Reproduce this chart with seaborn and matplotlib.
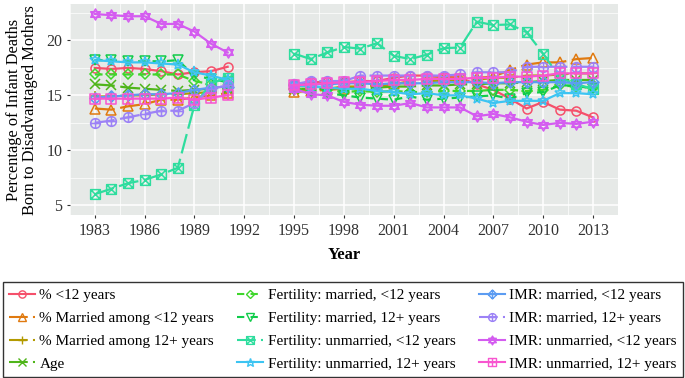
import matplotlib
matplotlib.use("Agg")
import matplotlib.pyplot as plt
from matplotlib.path import Path
from matplotlib.lines import Line2D
from matplotlib.ticker import MultipleLocator
import seaborn as sns
import numpy as np
import pandas as pd

# Years covered by the two survey periods
years_a = list(range(1983, 1992))
years_b = list(range(1995, 2014))

labels = [
    "% <12 years",
    "% Married among <12 years",
    "% Married among 12+ years",
    "Age",
    "Fertility: married, <12 years",
    "Fertility: married, 12+ years",
    "Fertility: unmarried, <12 years",
    "Fertility: unmarried, 12+ years",
    "IMR: married, <12 years",
    "IMR: married, 12+ years",
    "IMR: unmarried, <12 years",
    "IMR: unmarried, 12+ years",
]

pct_lt12_a = [17.5, 17.4, 17.5, 17.4, 17.2, 16.9, 17.1, 17.2, 17.6]
pct_lt12_b = [16.0, 16.2, 16.2, 16.2, 16.3, 16.3, 16.6, 16.8, 16.8, 16.7,
              16.6, 16.0, 15.5, 14.7, 13.8, 14.4, 13.7, 13.6, 13.0]
mar_lt12_a = [13.8, 13.7, 14.0, 14.2, 14.6, 14.6, 14.8, 15.0, 15.2]
mar_lt12_b = [15.3, 15.4, 15.5, 15.6, 15.8, 15.9, 16.0, 16.3, 16.5, 16.6,
              16.6, 16.6, 16.7, 17.3, 17.8, 18.0, 18.0, 18.3, 18.4]
mar_12p_a = [14.9, 14.9, 15.0, 15.0, 15.1, 15.1, 15.2, 15.3, 15.3]
mar_12p_b = [15.4, 15.6, 15.6, 15.8, 15.8, 15.9, 16.1, 16.1, 16.3, 16.3,
             16.4, 16.4, 16.6, 16.6, 16.8, 16.8, 16.9, 17.0, 17.0]
age_a = [16.0, 15.9, 15.7, 15.6, 15.5, 15.4, 15.5, 15.6, 15.6]
age_b = [15.6, 15.6, 15.6, 15.7, 15.6, 15.7, 15.8, 15.8, 15.9, 15.9,
         16.0, 16.0, 16.1, 16.1, 16.2, 16.3, 16.4, 16.4, 16.4]
fert_mar_lt12_a = [16.9, 16.9, 16.9, 16.9, 16.9, 16.9, 16.3, 16.0, 15.8]
fert_mar_lt12_b = [15.6, 15.5, 15.5, 15.3, 15.4, 15.3, 15.4, 15.3, 15.3, 15.4,
                   15.4, 15.4, 15.5, 15.5, 15.4, 15.5, 15.9, 15.8, 15.7]
fert_mar_12p_a = [18.2, 18.2, 18.1, 18.1, 18.1, 18.2, 16.8, 16.5, 16.2]
fert_mar_12p_b = [15.5, 15.3, 15.2, 15.0, 14.8, 14.7, 14.6, 14.9, 14.6, 14.7,
                  14.8, 14.9, 15.0, 14.7, 15.2, 15.3, 15.9, 15.9, 15.6]
fert_unm_lt12_a = [6.0, 6.5, 7.0, 7.3, 7.8, 8.4, 14.1, 16.1, 16.6]
fert_unm_lt12_b = [18.8, 18.3, 18.9, 19.4, 19.25, 19.75, 18.6, 18.3, 18.7, 19.3,
                   19.35, 21.7, 21.4, 21.45, 20.75, 18.8, 16.6, 16.0, 15.6]
fert_unm_12p_a = [18.2, 18.1, 18.0, 18.0, 17.9, 17.8, 17.1, 16.8, 16.4]
fert_unm_12p_b = [15.9, 15.8, 15.7, 15.6, 15.6, 15.4, 15.3, 15.1, 15.2, 15.0,
                  15.0, 14.7, 14.3, 14.5, 14.5, 14.5, 15.2, 15.2, 15.1]
imr_mar_lt12_a = [14.8, 14.9, 15.0, 15.1, 15.1, 15.2, 15.5, 15.7, 15.8]
imr_mar_lt12_b = [15.9, 16.0, 16.0, 16.1, 16.1, 16.0, 16.1, 16.1, 16.1, 16.2,
                  16.2, 16.2, 16.1, 16.2, 16.2, 16.2, 16.2, 16.1, 16.2]
imr_mar_12p_a = [12.5, 12.7, 13.0, 13.3, 13.6, 13.6, 14.3, 15.6, 15.9]
imr_mar_12p_b = [16.0, 16.3, 16.3, 16.3, 16.8, 16.8, 16.8, 16.8, 16.8, 16.8,
                 16.9, 17.1, 17.1, 17.1, 17.6, 17.6, 17.6, 17.6, 17.6]
imr_unm_lt12_a = [22.4, 22.3, 22.2, 22.2, 21.5, 21.5, 20.8, 19.7, 18.9]
imr_unm_lt12_b = [15.6, 15.1, 15.0, 14.4, 14.15, 14.05, 14.05, 14.3, 13.9, 13.9,
                  13.9, 13.1, 13.3, 13.0, 12.6, 12.3, 12.5, 12.4, 12.6]
imr_unm_12p_a = [14.7, 14.7, 14.7, 14.7, 14.7, 14.8, 14.6, 14.8, 15.0]
imr_unm_12p_b = [15.9, 16.0, 16.1, 16.2, 16.2, 16.3, 16.4, 16.4, 16.5, 16.5,
                 16.5, 16.6, 16.6, 16.7, 16.7, 16.8, 17.0, 17.0, 17.0]

series_a = [pct_lt12_a, mar_lt12_a, mar_12p_a, age_a, fert_mar_lt12_a,
            fert_mar_12p_a, fert_unm_lt12_a, fert_unm_12p_a, imr_mar_lt12_a,
            imr_mar_12p_a, imr_unm_lt12_a, imr_unm_12p_a]
series_b = [pct_lt12_b, mar_lt12_b, mar_12p_b, age_b, fert_mar_lt12_b,
            fert_mar_12p_b, fert_unm_lt12_b, fert_unm_12p_b, imr_mar_lt12_b,
            imr_mar_12p_b, imr_unm_lt12_b, imr_unm_12p_b]

colors = ["#F5506B", "#E07A10", "#B39A00", "#4FB51A", "#3FD62C", "#10CC4A",
          "#2EDD9E", "#3CC4F2", "#5C9CF2", "#9C82F6", "#D45CF0", "#F855D0"]

# ggplot style compound markers
M, L, C = Path.MOVETO, Path.LINETO, Path.CLOSEPOLY
square = Path([(-1, -1), (1, -1), (1, 1), (-1, 1), (-1, -1)], [M, L, L, L, C])
diag = Path([(-1, -1), (1, 1), (-1, 1), (1, -1)], [M, L, M, L])
plus = Path([(-1, 0), (1, 0), (0, -1), (0, 1)], [M, L, M, L])
plus_d = Path([(-1.35, 0), (1.35, 0), (0, -1.35), (0, 1.35)], [M, L, M, L])
diamond = Path([(0, -1.35), (1.35, 0), (0, 1.35), (-1.35, 0), (0, -1.35)],
               [M, L, L, L, C])
tri_up = Path([(0, 1.25), (1.08, -0.62), (-1.08, -0.62), (0, 1.25)], [M, L, L, C])
tri_dn = Path([(0, -1.25), (1.08, 0.62), (-1.08, 0.62), (0, -1.25)], [M, L, L, C])
sq_cross = Path.make_compound_path(square, diag)
dia_plus = Path.make_compound_path(diamond, plus_d)
circ_plus = Path.make_compound_path(Path.unit_circle(), plus)
star_david = Path.make_compound_path(tri_up, tri_dn)
sq_plus = Path.make_compound_path(square, plus)

markers = ["o", "^", "+", "x", "D", "v", sq_cross, "*", dia_plus, circ_plus,
           star_david, sq_plus]
msizes = [6.5, 7, 7.5, 6.5, 5.5, 7, 7, 8, 8, 7, 8, 7]
longdash = (9, 2.5)
dashed = (3.5, 3)
styles = ["-", longdash, longdash, longdash, dashed, dashed, longdash, "-",
          "-", longdash, "-", "-"]

rows = []
for i, lab in enumerate(labels):
    for yr, v in zip(years_a, series_a[i]):
        rows.append((lab, "a", yr, v))
    for yr, v in zip(years_b, series_b[i]):
        rows.append((lab, "b", yr, v))
df = pd.DataFrame(rows, columns=["series", "period", "year", "value"])

plt.rcParams["font.family"] = ["Liberation Serif", "DejaVu Serif"]

fig = plt.figure(figsize=(6.85, 3.78), dpi=100)
ax = fig.add_axes([0.102, 0.431, 0.8, 0.558])
ax.set_facecolor("#E6E9E7")

for i, lab in enumerate(labels):
    sub = df[df["series"] == lab]
    ls = styles[i]
    kw = dict(linestyle="-") if ls == "-" else dict(dashes=ls)
    sns.lineplot(data=sub, x="year", y="value", units="period",
                 estimator=None, color=colors[i], ax=ax, linewidth=1.6,
                 marker=markers[i], markersize=msizes[i],
                 markerfacecolor="none", markeredgecolor=colors[i],
                 markeredgewidth=1.1, legend=False, zorder=3, **kw)

ax.set_xlim(1981.5, 2014.5)
ax.set_ylim(4.1, 23.3)
ax.set_xticks(range(1983, 2014, 3))
ax.set_yticks([5, 10, 15, 20])
ax.xaxis.set_minor_locator(MultipleLocator(1.5))
ax.yaxis.set_minor_locator(MultipleLocator(2.5))
ax.grid(which="major", color="white", linewidth=1.1, zorder=0)
ax.grid(which="minor", color="white", linewidth=0.5, zorder=0)
ax.set_axisbelow(True)
for s in ax.spines.values():
    s.set_visible(False)
ax.tick_params(which="major", length=2.5, width=0.8, color="#333333",
               labelsize=11.5, labelcolor="#333333", pad=3)
ax.tick_params(which="minor", length=0)
ax.set_xlabel("Year", fontsize=12, fontweight="bold", labelpad=6)
ax.set_ylabel("Percentage of Infant Deaths\nBorn to Disadvantaged Mothers",
              fontsize=11.8, labelpad=6, linespacing=1.0)

handles = []
for i, lab in enumerate(labels):
    ls = styles[i]
    h = Line2D([], [], color=colors[i], linewidth=1.5, marker=markers[i],
               markersize=msizes[i] * 0.8, markerfacecolor="none",
               markeredgecolor=colors[i], markeredgewidth=1.0)
    if ls != "-":
        h.set_dashes(ls)
    handles.append(h)

leg = fig.legend(handles, labels, loc="lower left",
                 bbox_to_anchor=(0.004, 0.003, 0.993, 0.26), mode="expand",
                 ncol=3, fontsize=11, frameon=True, fancybox=False,
                 edgecolor="black", handlelength=1.7, handletextpad=0.3,
                 columnspacing=0.5, labelspacing=0.6, borderpad=0.4,
                 borderaxespad=0.0)
leg.get_frame().set_linewidth(1.0)

fig.savefig("out.png", dpi=100)
